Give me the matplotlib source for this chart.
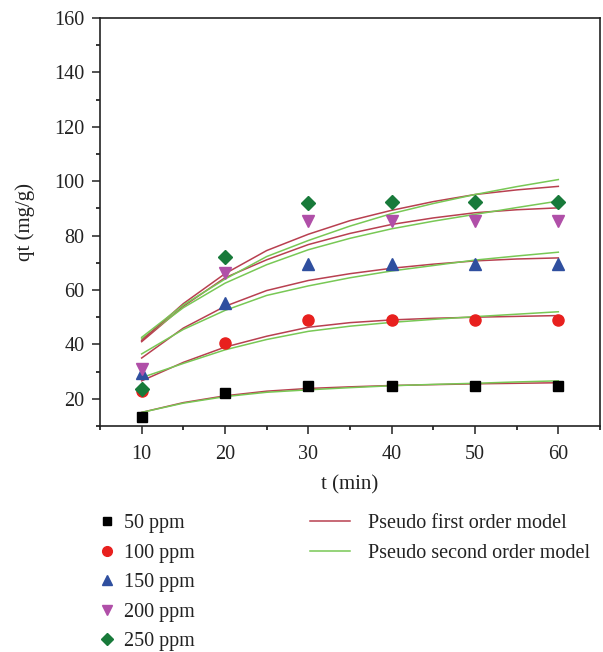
import matplotlib
matplotlib.use("Agg")
import matplotlib.pyplot as plt
from matplotlib.ticker import MultipleLocator
from matplotlib.lines import Line2D

plt.rcParams['font.family'] = ['Liberation Serif', 'DejaVu Serif']

# experimental data
t_exp = [10, 20, 30, 40, 50, 60]
series_labels = ["50 ppm", "100 ppm", "150 ppm", "200 ppm", "250 ppm"]
q_50 = [13.3, 22.1, 24.8, 24.8, 24.8, 24.8]
q_100 = [23.0, 40.5, 48.9, 48.9, 48.9, 48.9]
q_150 = [29.5, 55.3, 69.4, 69.4, 69.4, 69.4]
q_200 = [31.0, 66.4, 85.3, 85.3, 85.3, 85.3]
q_250 = [23.6, 72.0, 92.1, 92.3, 92.3, 92.4]

# model curves
t_fit = [10, 15, 20, 25, 30, 35, 40, 45, 50, 55, 60]
pfo_50 = [15.0, 18.6, 21.1, 22.8, 23.8, 24.4, 24.9, 25.2, 25.5, 25.7, 25.9]
pso_50 = [15.0, 18.4, 20.8, 22.4, 23.3, 24.1, 24.8, 25.3, 25.7, 26.2, 26.6]
pfo_100 = [26.6, 33.4, 39.0, 43.0, 46.3, 48.0, 49.0, 49.6, 50.0, 50.3, 50.6]
pso_100 = [27.8, 33.0, 38.0, 41.8, 44.8, 46.7, 48.1, 49.2, 50.2, 51.1, 52.0]
pfo_150 = [35.0, 46.0, 54.0, 59.8, 63.5, 66.0, 68.0, 69.5, 70.7, 71.4, 71.8]
pso_150 = [36.5, 45.5, 52.5, 58.0, 61.5, 64.5, 67.0, 69.0, 71.0, 72.5, 73.9]
pfo_200 = [41.0, 54.0, 64.5, 71.1, 76.7, 80.8, 84.1, 86.5, 88.4, 89.5, 90.2]
pso_200 = [42.0, 53.5, 62.5, 69.3, 74.8, 79.0, 82.5, 85.3, 87.8, 90.3, 92.7]
pfo_250 = [41.4, 55.0, 66.0, 74.5, 80.5, 85.5, 89.3, 92.5, 95.1, 96.8, 98.1]
pso_250 = [42.6, 54.5, 64.0, 72.3, 78.2, 83.5, 88.1, 91.8, 95.1, 98.0, 100.6]

model_labels = ["Pseudo first order model", "Pseudo second order model"]

exp_series = [q_50, q_100, q_150, q_200, q_250]
markers = ["s", "o", "^", "v", "D"]
mcolors = ["#000000", "#e8201e", "#2f4f9f", "#b04fa8", "#187a3a"]
msizes = [7, 8, 8, 8, 7]
red = "#b84050"
green = "#78c855"

fig = plt.figure(figsize=(6.03, 6.52), dpi=100)
ax = fig.add_axes([100/603, 1-426/652, 500/603, 408/652])

for pf, ps in [(pfo_50, pso_50), (pfo_100, pso_100), (pfo_150, pso_150),
               (pfo_200, pso_200), (pfo_250, pso_250)]:
    ax.plot(t_fit, pf, color=red, lw=1.1, zorder=2)
    ax.plot(t_fit, ps, color=green, lw=1.1, zorder=2)

for q, m, c, s in zip(exp_series, markers, mcolors, msizes):
    ax.plot(t_exp, q, linestyle="none", marker=m, color=c, markersize=s, zorder=3)

ax.set_xlim(5, 65)
ax.set_ylim(10, 160)
ax.xaxis.set_major_locator(MultipleLocator(10))
ax.xaxis.set_minor_locator(MultipleLocator(5))
ax.yaxis.set_major_locator(MultipleLocator(20))
ax.yaxis.set_minor_locator(MultipleLocator(10))
ax.tick_params(which="major", direction="out", length=6, width=1.1, labelsize=14.5, colors="#222222")
ax.tick_params(axis="x", which="major", pad=8)
ax.tick_params(axis="y", which="major", pad=5)
ax.tick_params(which="minor", direction="out", length=3, width=1.1)
for sp in ax.spines.values():
    sp.set_linewidth(1.2)
    sp.set_color("#222222")
ax.set_xlabel("t (min)", fontsize=15, color="#222222", labelpad=8)
ax.set_ylabel("qt (mg/g)", fontsize=15, color="#222222", labelpad=14)

h1 = [Line2D([], [], linestyle="none", marker=m, color=c, markersize=s-1)
      for m, c, s in zip(markers, mcolors, msizes)]
leg1 = fig.legend(h1, series_labels, loc="upper left", bbox_to_anchor=(97/603, 1-514/652),
                  frameon=False, fontsize=14.5, handlelength=1.0, handletextpad=0.35,
                  labelspacing=0.52, borderaxespad=0, borderpad=0)
h2 = [Line2D([], [], color=red, lw=1.1), Line2D([], [], color=green, lw=1.1)]
leg2 = fig.legend(h2, model_labels, loc="upper left", bbox_to_anchor=(310/603, 1-514/652),
                  frameon=False, fontsize=14.5, handlelength=2.0, handletextpad=0.9,
                  labelspacing=0.52, borderaxespad=0, borderpad=0)
for lg in (leg1, leg2):
    for tx in lg.get_texts():
        tx.set_color("#222222")

fig.savefig("out.png", dpi=100)
